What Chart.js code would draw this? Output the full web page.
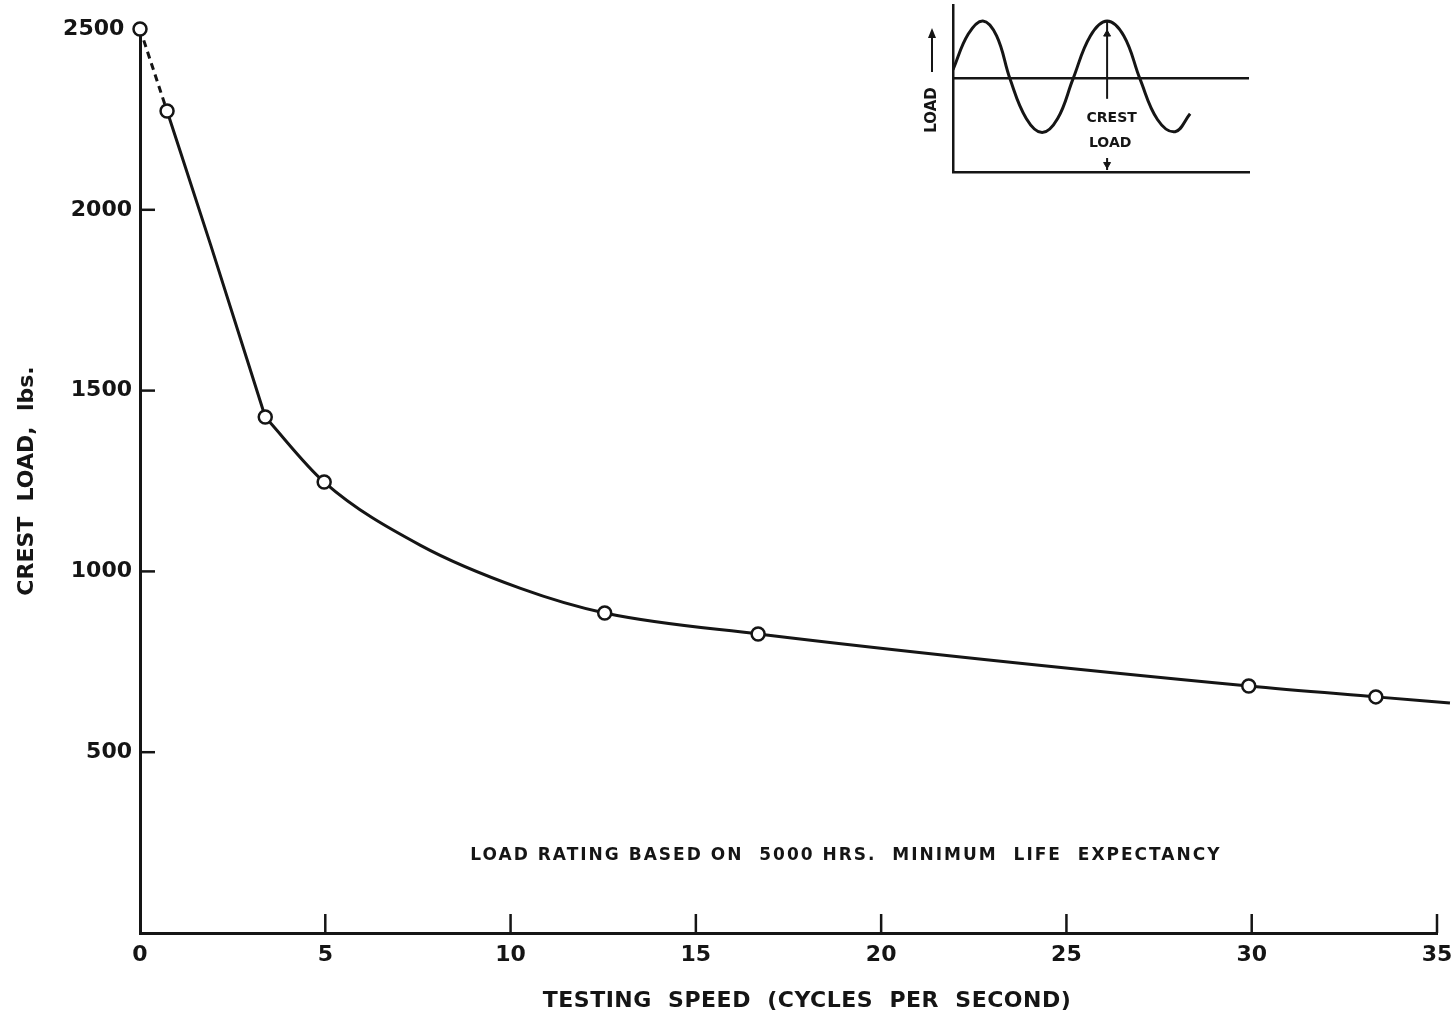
<!DOCTYPE html>
<html>
<head>
<meta charset="utf-8">
<script src="https://cdn.jsdelivr.net/npm/chart.js@4.4.1/dist/chart.umd.min.js"></script>
<style>
    html, body { margin: 0; padding: 0; background: #fff; }
    #wrap { position: relative; width: 1452px; height: 1021px; }
    #main { position: absolute; left: 0; top: 0; }
    #inset { position: absolute; left: 900px; top: 0; }
</style>
</head>
<body>
<div id="wrap">
    <canvas id="main" width="1452" height="1021"></canvas>
    <canvas id="inset" width="360" height="190"></canvas>
</div>
<script>
// measured test points (cycles per second, crest load lbs)
const speeds = [0, 0.73, 3.38, 4.97, 12.54, 16.68, 29.92, 33.35];
const loads = [2500, 2273, 1427, 1247, 885, 827, 683, 653];

// hand drawn curve through the points (no markers)
const upperSpeed = [0.73, 1.9, 3.38];
const upperLoad = [2273, 1905, 1427];
const lowerSpeed = [3.38, 4.97, 7.57, 10.27, 12.54, 16.68, 29.92, 33.35, 35.35];
const lowerLoad = [1427, 1247, 1072, 953, 885, 827, 683, 653, 636];

const xTicks = [0, 5, 10, 15, 20, 25, 30, 35];
const yTicks = [500, 1000, 1500, 2000, 2500];

// inset sketch: load against time (quarter periods)
const waveT = [0, 0.5, 0.98, 1.43, 1.87, 2.4, 2.92, 3.43, 3.93, 4.5, 5.05, 5.6, 6.13, 6.7, 7.28, 7.77];
const waveLoad = [1.09, 1.47, 1.61, 1.45, 0.99, 0.57, 0.42, 0.57, 0.99, 1.45, 1.61, 1.45, 0.99, 0.56, 0.43, 0.62];
const meanT = [0, 9.7];
const meanLoad = [1, 1];
const crestT = 5.05;

const INK = '#151515';
const FONT = '"DejaVu Sans", sans-serif';

const pts = (xs, ys) => xs.map((x, i) => ({ x: x, y: ys[i] }));

const axisMarks = {
    id: 'axisMarks',
    afterDraw(chart) {
        const { ctx, chartArea, scales: { x, y } } = chart;
        ctx.save();
        ctx.strokeStyle = INK;
        ctx.lineWidth = 2.5;
        xTicks.forEach(v => {
            if (v === 0) return;
            const px = x.getPixelForValue(v);
            ctx.beginPath();
            ctx.moveTo(px, chartArea.bottom);
            ctx.lineTo(px, chartArea.bottom - 19);
            ctx.stroke();
        });
        yTicks.forEach(v => {
            if (v === 2500) return;
            const py = y.getPixelForValue(v);
            ctx.beginPath();
            ctx.moveTo(chartArea.left, py);
            ctx.lineTo(chartArea.left + 15, py);
            ctx.stroke();
        });
        ctx.fillStyle = INK;
        ctx.textAlign = 'center';
        ctx.textBaseline = 'middle';
        ctx.font = 'bold 17px ' + FONT;
        ctx.letterSpacing = '2px';
        ctx.fillText('LOAD RATING BASED ON  5000 HRS.  MINIMUM  LIFE  EXPECTANCY',
            x.getPixelForValue(19.05), y.getPixelForValue(213));
        ctx.font = 'bold 22px ' + FONT;
        ctx.letterSpacing = '0.5px';
        ctx.fillText('TESTING  SPEED  (CYCLES  PER  SECOND)', x.getPixelForValue(18), 1001);
        ctx.restore();
    }
};

new Chart(document.getElementById('main'), {
    type: 'line',
    data: {
        datasets: [
            {
                data: pts(speeds, loads),
                showLine: false,
                clip: false,
                pointRadius: 6.5,
                pointBorderWidth: 2.5,
                pointBackgroundColor: '#fff',
                pointBorderColor: INK
            },
            {
                data: pts(speeds.slice(0, 2), loads.slice(0, 2)),
                borderColor: INK,
                borderWidth: 3,
                borderDash: [7, 5],
                pointRadius: 0,
                clip: false
            },
            {
                data: pts(upperSpeed, upperLoad),
                borderColor: INK,
                borderWidth: 3,
                cubicInterpolationMode: 'monotone',
                pointRadius: 0
            },
            {
                data: pts(lowerSpeed, lowerLoad),
                borderColor: INK,
                borderWidth: 3,
                cubicInterpolationMode: 'monotone',
                pointRadius: 0,
                clip: false
            }
        ]
    },
    options: {
        responsive: false,
        animation: false,
        layout: { padding: { top: 29, right: 15, left: 0, bottom: 0 } },
        plugins: { legend: { display: false }, tooltip: { enabled: false } },
        scales: {
            x: {
                type: 'linear',
                min: 0,
                max: 35,
                afterFit(s) { s.height = 88; s.paddingLeft = 0; s.paddingRight = 0; },
                afterBuildTicks(s) { s.ticks = xTicks.map(v => ({ value: v })); },
                grid: { display: false, drawTicks: false },
                border: { display: true, color: INK, width: 3 },
                ticks: { color: INK, padding: 9, maxRotation: 0, font: { family: FONT, size: 22, weight: 'bold' } }
            },
            y: {
                type: 'linear',
                min: 0,
                max: 2500,
                afterFit(s) { s.width = 140; s.paddingTop = 0; s.paddingBottom = 0; },
                afterBuildTicks(s) { s.ticks = yTicks.map(v => ({ value: v })); },
                grid: { display: false, drawTicks: false },
                border: { display: true, color: INK, width: 3 },
                ticks: {
                    color: INK,
                    padding: 8,
                    font: { family: FONT, size: 22, weight: 'bold' },
                    // top label sits left of the open circle at 2500
                    callback: v => (v === 2500 ? '2500 ' : String(v))
                },
                title: {
                    display: true,
                    text: 'CREST  LOAD,  lbs.',
                    color: INK,
                    padding: { top: 14, bottom: 0 },
                    font: { family: FONT, size: 22, weight: 'bold' }
                }
            }
        }
    },
    plugins: [axisMarks]
});

const insetMarks = {
    id: 'insetMarks',
    afterDraw(chart) {
        const { ctx, scales: { x, y } } = chart;
        ctx.save();
        ctx.fillStyle = INK;
        ctx.strokeStyle = INK;
        ctx.textAlign = 'center';
        ctx.textBaseline = 'middle';
        ctx.font = 'bold 14px ' + FONT;
        ctx.fillText('CREST', x.getPixelForValue(crestT + 0.15), y.getPixelForValue(0.57));
        ctx.fillText('LOAD', x.getPixelForValue(crestT + 0.1), y.getPixelForValue(0.31));
        // rotated axis label with arrow
        ctx.translate(32, 110);
        ctx.rotate(-Math.PI / 2);
        ctx.font = 'bold 15px ' + FONT;
        ctx.fillText('LOAD', 0, 0);
        ctx.lineWidth = 2;
        ctx.beginPath();
        ctx.moveTo(38, 0);
        ctx.lineTo(78, 0);
        ctx.stroke();
        ctx.beginPath();
        ctx.moveTo(82, 0);
        ctx.lineTo(72, -4);
        ctx.lineTo(72, 4);
        ctx.closePath();
        ctx.fill();
        ctx.restore();
    }
};

new Chart(document.getElementById('inset'), {
    type: 'line',
    data: {
        datasets: [
            {
                data: pts(waveT, waveLoad),
                borderColor: INK,
                borderWidth: 3,
                tension: 0.4,
                pointRadius: 0
            },
            {
                data: pts(meanT, meanLoad),
                borderColor: INK,
                borderWidth: 2.5,
                pointRadius: 0
            },
            {
                data: pts([crestT, crestT], [0.78, 1.6]),
                borderColor: INK,
                borderWidth: 2,
                pointRadius: 0
            },
            {
                data: pts([crestT, crestT], [0.15, 0.02]),
                borderColor: INK,
                borderWidth: 2,
                pointRadius: 0
            },
            {
                data: pts([crestT, crestT], [1.47, 0.08]),
                showLine: false,
                pointStyle: 'triangle',
                pointRadius: 4,
                rotation: [0, 180],
                pointBackgroundColor: INK,
                pointBorderColor: INK,
                pointBorderWidth: 1
            }
        ]
    },
    options: {
        responsive: false,
        animation: false,
        layout: { padding: { top: 3, right: 11, left: 0, bottom: 0 } },
        plugins: { legend: { display: false }, tooltip: { enabled: false } },
        scales: {
            x: {
                type: 'linear',
                min: 0,
                max: 9.7,
                afterFit(s) { s.height = 18; s.paddingLeft = 0; s.paddingRight = 0; },
                grid: { display: false, drawTicks: false },
                border: { display: true, color: INK, width: 2.5 },
                ticks: { display: false }
            },
            y: {
                type: 'linear',
                min: 0,
                max: 1.78,
                afterFit(s) { s.width = 53; },
                grid: { display: false, drawTicks: false },
                border: { display: true, color: INK, width: 2.5 },
                ticks: { display: false }
            }
        }
    },
    plugins: [insetMarks]
});
</script>
</body>
</html>
